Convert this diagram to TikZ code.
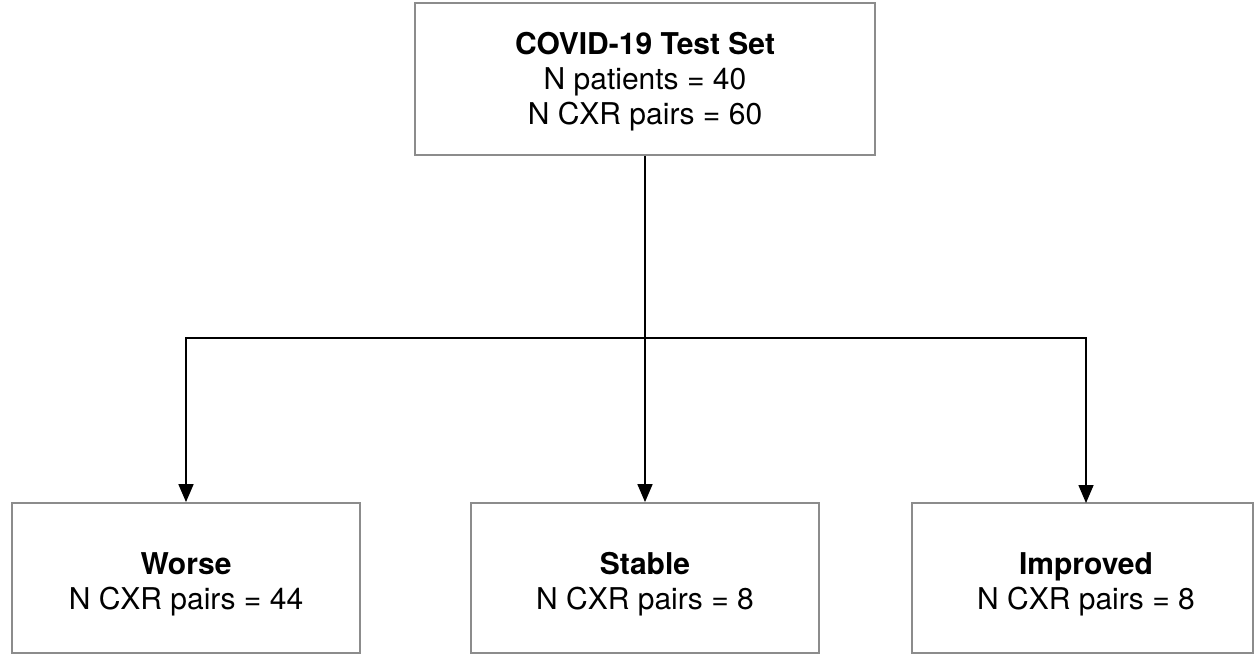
\documentclass[tikz,border=0pt]{standalone}
\usepackage{fontspec}
\setmainfont{TeX Gyre Heros}
\usetikzlibrary{arrows.meta}
\begin{document}
\begin{tikzpicture}[x=1pt,y=-1pt,
  box/.style={draw=black!45, line width=1.8pt, fill=white, inner sep=0pt},
  txt/.style={inner sep=0pt, align=center, font=\fontsize{30}{35}\selectfont},
  link/.style={draw=black, line width=1.6pt},
  arr/.style={link, -{Triangle[length=18pt,width=15pt]}}]
  \useasboundingbox (0,0) rectangle (1257,654);
  % source set
  \node[box, minimum width=460pt, minimum height=152pt] (top) at (645,79) {};
  \node[txt] (toptxt) at (645,82)
    {\textbf{COVID-19 Test Set}\\N patients = 40\\N CXR pairs = 60};
  % outcome groups
  \node[box, minimum width=348pt, minimum height=150pt] (worse) at (186,578) {};
  \node[txt] (worsetxt) at (186,584) {\textbf{Worse}\\N CXR pairs = 44};
  \node[box, minimum width=348pt, minimum height=150pt] (stable) at (645,578) {};
  \node[txt] (stabletxt) at (645,584) {\textbf{Stable}\\N CXR pairs = 8};
  \node[box, minimum width=341pt, minimum height=150pt] (improved) at (1082.5,578) {};
  \node[txt] (improvedtxt) at (1086,584) {\textbf{Improved}\\N CXR pairs = 8};
  % branching connectors
  \coordinate (split) at (645,338);
  \coordinate (wl) at (186,338);
  \coordinate (il) at (1086,338);
  \coordinate (iin) at (1086,503);
  \draw[link] (top.south) -- (split);
  \draw[arr] (split) -- (stable.north);
  \draw[arr] (split) -- (wl) -- (worse.north);
  \draw[arr] (split) -- (il) -- (iin);
\end{tikzpicture}
\end{document}
